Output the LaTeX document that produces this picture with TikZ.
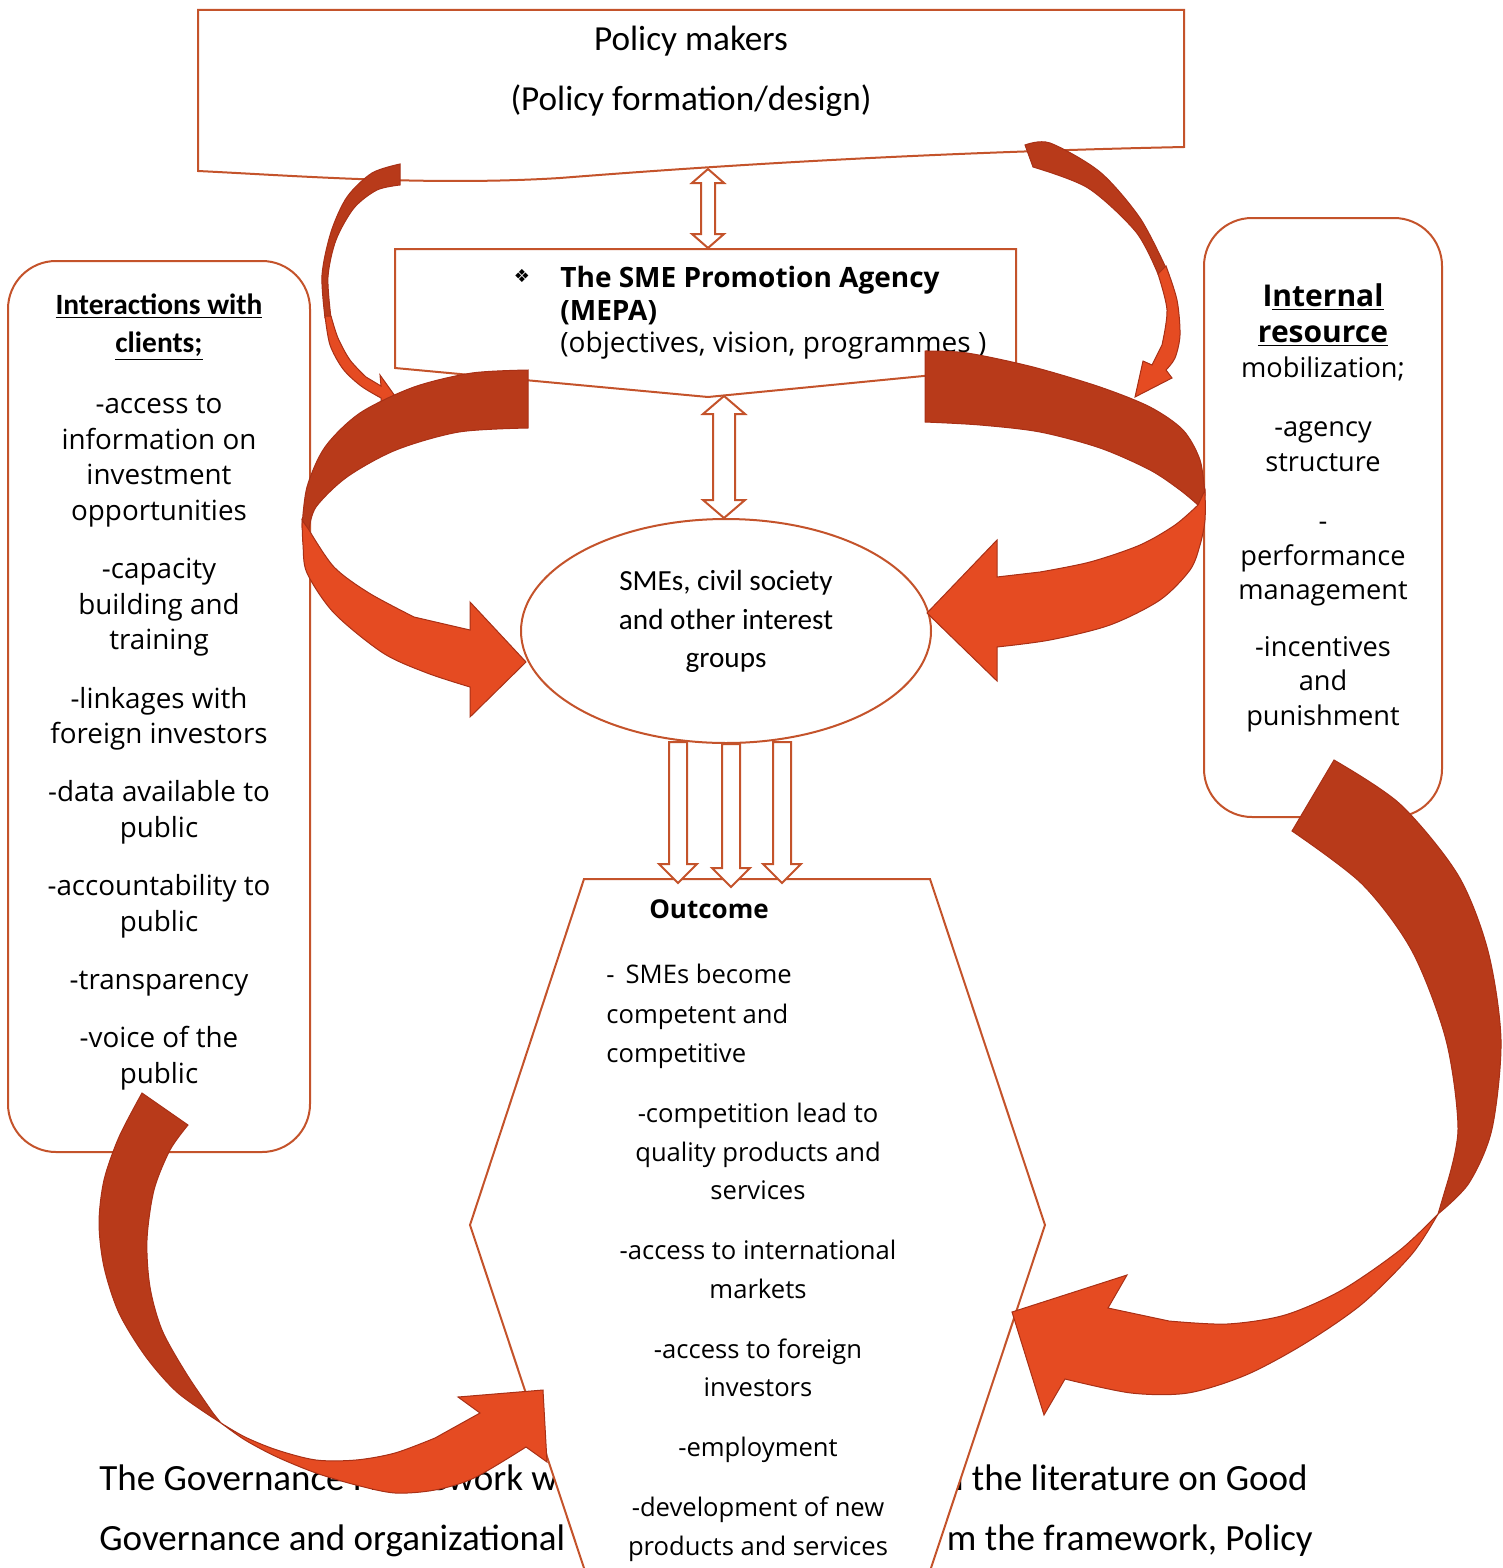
\documentclass[tikz,border=0pt]{standalone}
\usepackage{fontspec}
\setmainfont{Open Sans}
\newfontfamily\narrowfont{Carlito}
\newfontfamily\symbolfont{DejaVu Sans}
\usepackage{tikz}
\usetikzlibrary{calc,positioning,shapes.geometric}
\definecolor{boxline}{RGB}{196,83,43}
\definecolor{arrowdark}{RGB}{184,58,26}
\definecolor{arroworange}{RGB}{229,75,34}
\definecolor{arrowedge}{RGB}{168,48,22}

\begin{document}
\begin{tikzpicture}[x=0.5pt,y=-0.5pt,
    outline/.style={draw=boxline, line width=1pt, fill=white},
    panel/.style={outline, rounded corners=24pt, inner sep=0pt},
    hollow/.style={draw=boxline, line width=1pt, fill=white},
    backband/.style={fill=arrowdark, draw=arrowedge, line width=0.5pt},
    frontband/.style={fill=arroworange, draw=arrowedge, line width=0.5pt},
    txt/.style={inner sep=0pt, text=black}]
\useasboundingbox (0,0) rectangle (1503,1568);
\clip (0,0) rectangle (1503,1568);

% caption text behind the figure
\node[txt, anchor=base west, font=\narrowfont\fontsize{18.5}{22}\selectfont] (capA) at (99,1490) {The Governance Framework w};
\node[txt, anchor=base west, font=\narrowfont\fontsize{18.5}{22}\selectfont] (capB) at (99,1550) {Governance and organizational};
\node[txt, anchor=base east, font=\narrowfont\fontsize{18.5}{22}\selectfont] (capC) at (1308,1490) {m the literature on Good};
\node[txt, anchor=base east, font=\narrowfont\fontsize{18.5}{22}\selectfont] (capD) at (1313,1550) {m the framework, Policy};

% boxes
\draw[outline] (198,10) -- (1184,10) -- (1184,147) .. controls (950,152) and (750,163) .. (560,178)
    .. controls (430,186) and (300,176) .. (198,171) -- cycle;
\draw[outline] (395,249) -- (1016,249) -- (1016,367) -- (708,397) -- (395,368) -- cycle;
\node[outline, ellipse, minimum width=205pt, minimum height=112pt, inner sep=0pt] (sme) at (726,631) {};
\draw[outline] (584,879) -- (930,879) -- (1045,1225) -- (930,1571) -- (585,1571) -- (470,1225) -- cycle;
\node[panel, minimum width=151pt, minimum height=445.5pt] (clients) at (159,706.5) {};
\node[panel, minimum width=119pt, minimum height=299.5pt] (resource) at (1323,517.5) {};

\coordinate (pmB) at (708,169);
\coordinate (mepaT) at (708,248);
\coordinate (mepaB) at (724,396);
\coordinate (smeT) at (724,518);
\coordinate (outT) at (726,883);

% hollow arrows
\foreach \a/\b/\s/\h/\l in {pmB/mepaT/7/16/14, mepaB/smeT/11/21/18}
  \draw[hollow] (\a) -- ($(\a)+(\h,\l)$) -- ($(\a)+(\s,\l)$) -- ($(\b)+(\s,-\l)$) -- ($(\b)+(\h,-\l)$) -- (\b)
    -- ($(\b)+(-\h,-\l)$) -- ($(\b)+(-\s,-\l)$) -- ($(\a)+(-\s,\l)$) -- ($(\a)+(-\h,\l)$) -- cycle;
\foreach \dx/\top/\dy in {-48/-2/0, 5/0/4, 56/-2/0}
  \draw[hollow] ($(sme.south)+(\dx-9,\top)$) -- ($(sme.south)+(\dx+9,\top)$) -- ($(outT)+(\dx+9,\dy-19)$)
    -- ($(outT)+(\dx+19,\dy-19)$) -- ($(outT)+(\dx,\dy)$) -- ($(outT)+(\dx-19,\dy-19)$) -- ($(outT)+(\dx-9,\dy-19)$) -- cycle;

% texts
\node[txt, anchor=north, align=center, font=\narrowfont\fontsize{17.6}{30}\selectfont] (pm) at (691,26)
  {Policy makers\\(Policy formation/design)};
\node[txt, font=\symbolfont\fontsize{9}{9}\selectfont] (bullet) at (522,276) {❖};
\node[txt, anchor=north west, align=left, font=\fontsize{14}{16.25}\selectfont] (mepa) at (560,266)
  {\textbf{The SME Promotion Agency}\\\textbf{(MEPA)}\\(objectives, vision, programmes )};
\node[txt, anchor=north, align=center, font=\narrowfont\fontsize{14.6}{19.25}\selectfont] (smetext) at (726,570)
  {SMEs, civil society\\and other interest\\groups};
\node[txt, anchor=north, align=center, font=\fontsize{13.9}{17.8}\selectfont] (clientlist) at (159,293)
  {{\narrowfont\bfseries\fontsize{14.7}{19}\selectfont\underline{Interactions with}}\\[1.25pt]
   {\narrowfont\bfseries\fontsize{14.7}{19}\selectfont\underline{clients;}}\\[13pt]
   -access to\\information on\\investment\\opportunities\\[11.3pt]
   -capacity\\building and\\training\\[11.3pt]
   -linkages with\\foreign investors\\[11.3pt]
   -data available to\\public\\[11.3pt]
   -accountability to\\public\\[11.3pt]
   -transparency\\[11.3pt]
   -voice of the\\public};
\node[txt, anchor=north, align=center, font=\fontsize{13.6}{17.25}\selectfont] (resourcelist) at (1323,283)
  {{\bfseries\fontsize{15}{18}\selectfont I\underline{nternal}}\\[1pt]
   {\bfseries\fontsize{15}{18}\selectfont\underline{resource}}\\
   mobilization;\\[12.5pt]
   -agency\\structure\\[12.5pt]
   -\\performance\\management\\[11pt]
   -incentives\\and\\punishment};
\node[txt, anchor=north, font=\bfseries\fontsize{13}{16}\selectfont] (outtitle) at (709,899) {Outcome};
\node[txt, anchor=north west, align=left, font=\fontsize{12.8}{19.75}\selectfont] (outfirst) at (606,964)
  {-\hspace{5.5pt}SMEs become\\competent and\\competitive};
\node[txt, anchor=north, align=center, font=\fontsize{12.8}{19.25}\selectfont] (outlist) at (758,1103)
  {-competition lead to\\quality products and\\services\\[10.75pt]
   -access to international\\markets\\[10.75pt]
   -access to foreign\\investors\\[10.75pt]
   -employment\\[10.75pt]
   -development of new\\products and services};

% curved arrows
\filldraw[backband] plot[smooth] coordinates {(400,164) (372,173) (347,197) (331,232) (322,275) (325,318)}
  -- plot[smooth] coordinates {(331,318) (328,277) (336,240) (354,208) (377,190) (400,185)} -- cycle;
\filldraw[frontband] plot[smooth] coordinates {(325,316) (330,345) (343,369) (361,386) (381,398)}
  -- (382,417) -- (400,403) -- (380,375) -- (381,386)
  -- plot[smooth] coordinates {(366,377) (350,360) (338,338) (331,316)} -- cycle;

\filldraw[backband] plot[smooth] coordinates {(1025,145) (1050,143) (1100,172) (1140,218) (1166,268)}
  -- plot[smooth] coordinates {(1158,274) (1136,232) (1088,188) (1033,167)} -- cycle;
\filldraw[frontband] plot[smooth] coordinates {(1166,266) (1177,300) (1180,335) (1175,358) (1166,370)}
  -- (1172,378) -- (1135,397) -- (1143,361) -- (1152,365)
  -- plot[smooth] coordinates {(1162,345) (1167,310) (1158,274)} -- cycle;

\filldraw[backband] plot[smooth] coordinates {(528,370) (472,373) (414,387) (360,413) (325,447) (307,487) (302,527)}
  -- plot[smooth] coordinates {(309,530) (316,507) (347,477) (396,450) (459,432) (528,428)} -- cycle;
\filldraw[frontband] plot[smooth] coordinates {(302,520) (303,545) (307,573) (334,613) (383,653) (427,673) (470,687)}
  -- (470,717) -- (526,662) -- (470,602) -- (470,630)
  -- plot[smooth] coordinates {(414,617) (369,593) (334,567) (309,530)} -- cycle;

\filldraw[backband] plot[smooth] coordinates {(925,351) (967,353) (1033,367) (1100,387) (1150,407) (1183,430) (1200,460) (1205,495)}
  -- plot[smooth] coordinates {(1198,505) (1180,490) (1150,470) (1100,448) (1040,432) (980,425) (925,422)} -- cycle;
\filldraw[frontband] plot[smooth] coordinates {(1205,490) (1205,520) (1200,545) (1190,570) (1160,600) (1110,625) (1050,640) (997,647)}
  -- (997,681) -- (927,613) -- (997,540) -- (997,577)
  -- plot[smooth] coordinates {(1040,572) (1090,562) (1140,545) (1175,525) (1198,505)} -- cycle;

\filldraw[backband] plot[smooth] coordinates {(142,1093) (119,1137) (104,1180) (99,1223) (104,1267) (119,1313) (146,1357) (178,1393) (221,1423)}
  -- plot[smooth] coordinates {(213,1413) (186,1373) (162,1330) (150,1287) (147,1240) (154,1190) (170,1150) (188,1125)} -- cycle;
\filldraw[frontband] plot[smooth] coordinates {(221,1423) (245,1440) (277,1457) (316,1473) (356,1485) (395,1493) (435,1490) (474,1478) (526,1447)}
  -- (547,1462) -- (543,1390) -- (458,1397) -- (480,1413)
  -- plot[smooth] coordinates {(435,1438) (395,1453) (356,1460) (316,1460) (277,1450) (245,1437) (221,1423)} -- cycle;

\filldraw[backband] plot[smooth] coordinates {(1334,760) (1400,804) (1458,875) (1488,951) (1501,1040) (1492,1129) (1469,1183) (1438,1214)}
  -- plot[smooth] coordinates {(1446,1187) (1458,1129) (1446,1040) (1412,951) (1362,884) (1292,831)} -- cycle;
\filldraw[frontband] plot[smooth] coordinates {(1438,1214) (1412,1254) (1362,1304) (1304,1344) (1246,1375) (1188,1393) (1131,1393) (1065,1379)}
  -- (1044,1415) -- (1012,1312) -- (1127,1275) -- (1108,1308)
  -- plot[smooth] coordinates {(1169,1321) (1227,1324) (1285,1315) (1342,1290) (1400,1250) (1438,1214)} -- cycle;
\end{tikzpicture}
\end{document}
